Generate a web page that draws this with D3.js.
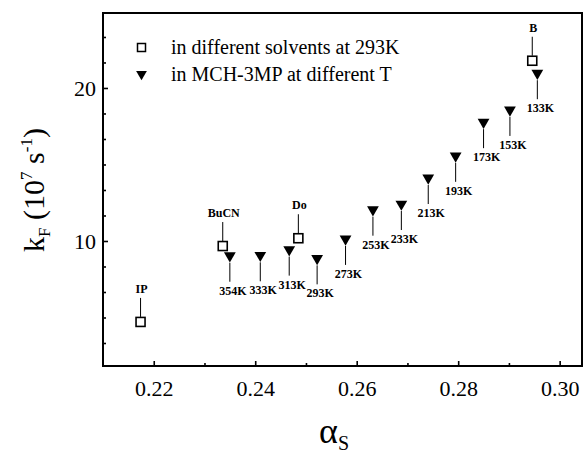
<!DOCTYPE html>
<html lang="en">
<head>
<meta charset="UTF-8">
<title>kF vs alpha</title>
<style>
    body { margin: 0; background: #fff; }
    svg { display: block; background: #fff; }
</style>
</head>
<body>
<script src="https://cdnjs.cloudflare.com/ajax/libs/d3/7.8.5/d3.min.js"></script>
<script>
    const width = 584;
    const height = 456;
    const margin = {top: 13, right: 1, bottom: 90, left: 103};
    const serif = "Liberation Serif, DejaVu Serif, Times New Roman, serif";

    // solvents at 293K (open squares)
    const solventNames = ["IP", "BuCN", "Do", "B"];
    const solventAlpha = [0.2174, 0.2336, 0.2485, 0.2946];
    const solventKf = [4.71, 9.67, 10.18, 21.78];

    // MCH-3MP at different T (filled triangles)
    const tempLabels = ["354K", "333K", "313K", "293K", "273K", "253K", "233K", "213K", "193K", "173K", "153K", "133K"];
    const tempAlpha = [0.2350, 0.2410, 0.2467, 0.2522, 0.2578, 0.2632, 0.2688, 0.2741, 0.2795, 0.2850, 0.2902, 0.2956];
    const tempKf = [8.97, 9.00, 9.37, 8.80, 10.07, 11.98, 12.35, 14.05, 15.50, 17.70, 18.50, 20.90];

    const xTicks = [0.22, 0.24, 0.26, 0.28, 0.30];
    const xMinor = [0.23, 0.25, 0.27, 0.29];
    const yTicks = [10, 20];
    const yMinor = [10 / 3, 5, 20 / 3, 25 / 3, 35 / 3, 40 / 3, 15, 50 / 3, 55 / 3, 65 / 3, 70 / 3];

    const legendItems = ["in different solvents at 293K", "in MCH-3MP at different T"];

    const svg = d3.select("body").append("svg")
        .attr("width", width)
        .attr("height", height)
        .attr("font-family", serif);

    const x = d3.scaleLinear()
        .domain([0.21, 0.3046])
        .range([margin.left, width - margin.right]);
    const y = d3.scaleLinear()
        .domain([1.83, 24.9])
        .range([height - margin.bottom, margin.top]);

    // axes, ticks pointing inwards
    svg.append("g")
        .attr("transform", `translate(0,${height - margin.bottom})`)
        .call(d3.axisBottom(x).tickValues(xTicks).tickSize(-5).tickPadding(14.5).tickFormat(d3.format(".2f")));
    svg.append("g")
        .attr("transform", `translate(0,${height - margin.bottom})`)
        .call(d3.axisBottom(x).tickValues(xMinor).tickSize(-3).tickFormat(""));

    svg.append("g")
        .attr("transform", `translate(${margin.left},0)`)
        .call(d3.axisLeft(y).tickValues(yTicks).tickSize(-5).tickPadding(7));
    svg.append("g")
        .attr("transform", `translate(${margin.left},0)`)
        .call(d3.axisLeft(y).tickValues(yMinor).tickSize(-3).tickFormat(""));

    svg.selectAll(".domain").remove();
    svg.selectAll("g").attr("font-family", serif);
    svg.selectAll(".tick line").attr("stroke", "#000").attr("stroke-width", 1.6);
    svg.selectAll(".tick text")
        .attr("font-size", 22)
        .attr("fill", "#000");

    // frame
    svg.append("rect")
        .attr("x", margin.left)
        .attr("y", margin.top)
        .attr("width", width - margin.left - margin.right - 1)
        .attr("height", height - margin.top - margin.bottom)
        .attr("fill", "none")
        .attr("stroke", "#000")
        .attr("stroke-width", 2);

    const triangle = d3.symbol().type(d3.symbolTriangle).size(60);

    // temperature series
    const temps = tempAlpha.map((a, i) => ({a: a, k: tempKf[i], label: tempLabels[i]}));
    const tg = svg.append("g");
    tg.selectAll("line")
        .data(temps)
        .join("line")
        .attr("x1", d => x(d.a))
        .attr("x2", d => x(d.a))
        .attr("y1", d => y(d.k) + 6)
        .attr("y2", d => y(d.k) + 25)
        .attr("stroke", "#000")
        .attr("stroke-width", 1);
    tg.selectAll("path")
        .data(temps)
        .join("path")
        .attr("d", triangle)
        .attr("transform", d => `translate(${x(d.a)},${y(d.k) - 1}) rotate(180)`)
        .attr("fill", "#000");
    tg.selectAll("text")
        .data(temps)
        .join("text")
        .attr("x", d => x(d.a) + 3)
        .attr("y", d => y(d.k) + 38)
        .attr("text-anchor", "middle")
        .attr("font-size", 12)
        .attr("font-weight", "bold")
        .text(d => d.label);

    // solvent series
    const solvents = solventAlpha.map((a, i) => ({a: a, k: solventKf[i], label: solventNames[i]}));
    const sg = svg.append("g");
    sg.selectAll("line")
        .data(solvents)
        .join("line")
        .attr("x1", d => x(d.a))
        .attr("x2", d => x(d.a))
        .attr("y1", d => y(d.k) - 5)
        .attr("y2", d => y(d.k) - 24)
        .attr("stroke", "#000")
        .attr("stroke-width", 1);
    sg.selectAll("rect")
        .data(solvents)
        .join("rect")
        .attr("x", d => x(d.a) - 4.5)
        .attr("y", d => y(d.k) - 4.5)
        .attr("width", 9)
        .attr("height", 9)
        .attr("fill", "#fff")
        .attr("stroke", "#000")
        .attr("stroke-width", 1.6);
    sg.selectAll("text")
        .data(solvents)
        .join("text")
        .attr("x", d => x(d.a) + 1)
        .attr("y", d => y(d.k) - 29)
        .attr("text-anchor", "middle")
        .attr("font-size", 12)
        .attr("font-weight", "bold")
        .text(d => d.label);

    // legend
    const lg = svg.append("g");
    lg.append("rect")
        .attr("x", 137.5).attr("y", 43.5)
        .attr("width", 8).attr("height", 8)
        .attr("fill", "#fff").attr("stroke", "#000").attr("stroke-width", 1.5);
    lg.append("path")
        .attr("d", d3.symbol().type(d3.symbolTriangle).size(50))
        .attr("transform", "translate(141.5,74) rotate(180)")
        .attr("fill", "#000");
    lg.selectAll("text")
        .data(legendItems)
        .join("text")
        .attr("x", 171)
        .attr("y", (d, i) => 54 + i * 27)
        .attr("font-size", 20)
        .text(d => d);

    // axis titles
    const yt = svg.append("text")
        .attr("transform", "translate(44,190) rotate(-90)")
        .attr("text-anchor", "middle")
        .attr("font-size", 30);
    yt.append("tspan").text("k");
    yt.append("tspan").attr("dy", 6).attr("font-size", 17).text("F");
    yt.append("tspan").attr("dy", -6).text(" (10");
    yt.append("tspan").attr("dy", -12).attr("font-size", 17).text("7");
    yt.append("tspan").attr("dy", 12).text(" s");
    yt.append("tspan").attr("dy", -12).attr("font-size", 17).text("-1");
    yt.append("tspan").attr("dy", 12).text(")");

    const xt = svg.append("text")
        .attr("x", 334)
        .attr("y", 443)
        .attr("text-anchor", "middle")
        .attr("font-size", 36);
    xt.append("tspan").text("α");
    xt.append("tspan").attr("dy", 7).attr("font-size", 20).text("S");
</script>
</body>
</html>
